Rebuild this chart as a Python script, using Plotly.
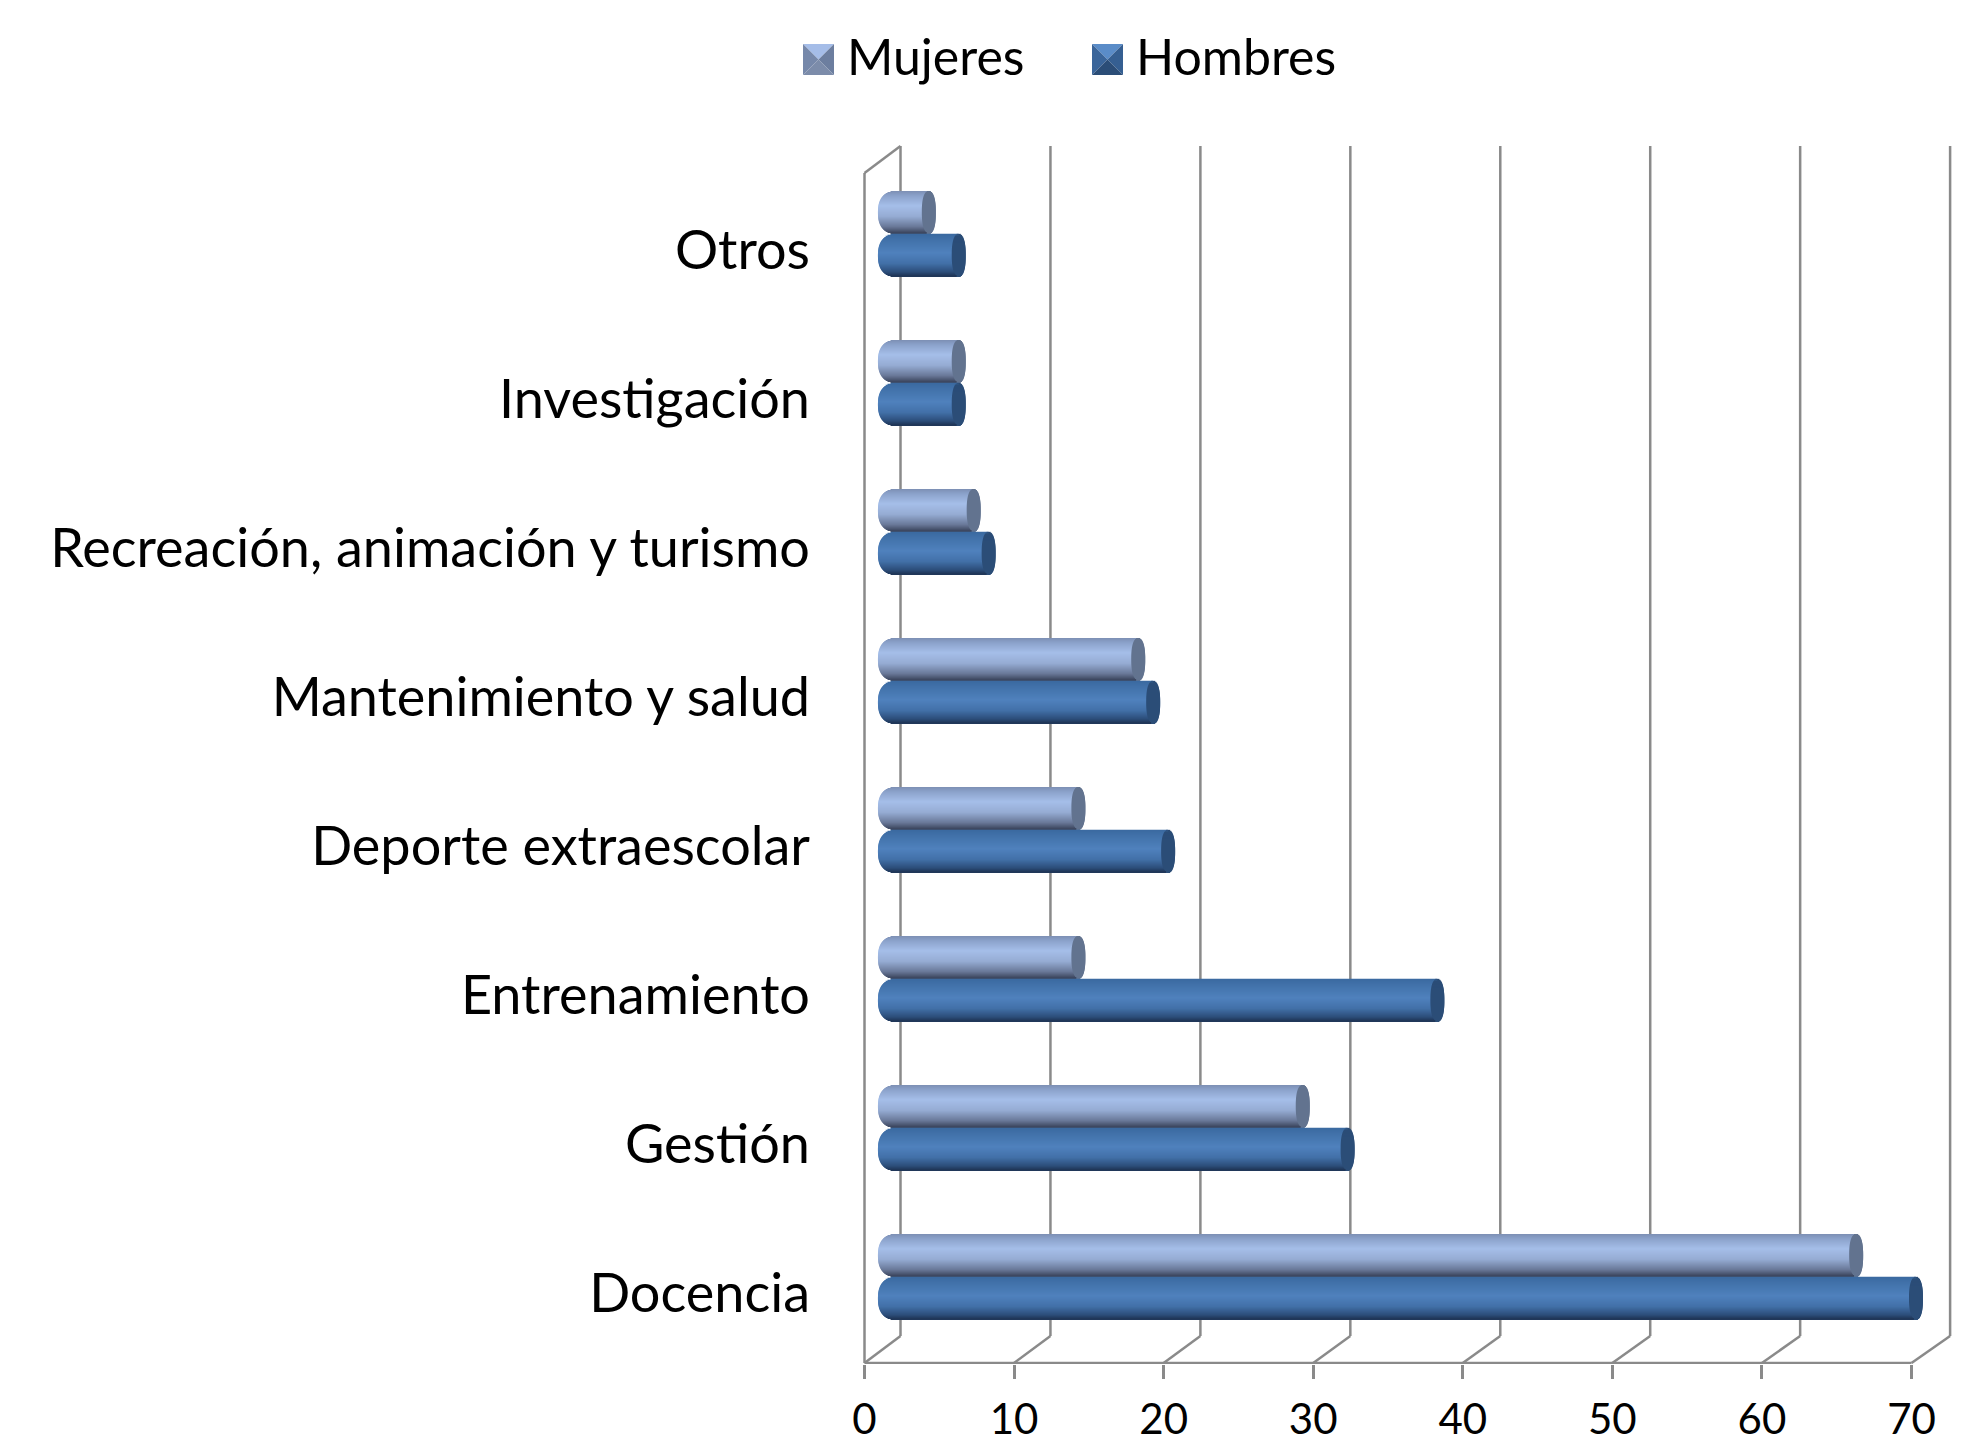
import plotly.graph_objects as go

categories = ["Docencia", "Gestión", "Entrenamiento", "Deporte extraescolar",
              "Mantenimiento y salud", "Recreación, animación y turismo",
              "Investigación", "Otros"]
mujeres = [65, 28, 13, 13, 17, 6, 5, 3]
hombres = [69, 31, 37, 19, 18, 7, 5, 5]
x_ticks = [0, 10, 20, 30, 40, 50, 60, 70]

W, H = 1974, 1446
PX_UNIT = 14.957
PX_CAT = 149.0
X0_PX, Y0_PX = 864.5, 1365
L, R, T, B = 857, 1952, 140, 1364
DEPTH_X = 36 / PX_UNIT
DEPTH_Y = 27 / PX_CAT
BACK_SCALE = 1.0025
GRID = "#8a8a8a"
FONT = "Lato"

stops_m = [(0, (125, 143, 180)), (0.12, (140, 163, 204)), (0.35, (165, 190, 233)),
           (0.6, (150, 172, 212)), (0.85, (105, 120, 152)), (1, (58, 68, 92))]
stops_h = [(0, (58, 105, 160)), (0.15, (66, 114, 170)), (0.45, (79, 129, 189)),
           (0.7, (66, 112, 168)), (0.9, (44, 78, 122)), (1, (30, 52, 85))]
cap_m = "#62738f"
cap_h = "#2b4d77"


def colour(stops, t):
    for (a, ca), (b, cb) in zip(stops, stops[1:]):
        if a <= t <= b:
            f = (t - a) / (b - a)
            return "rgb(%d,%d,%d)" % tuple(round(p + (q - p) * f) for p, q in zip(ca, cb))
    return "rgb(%d,%d,%d)" % stops[-1][1]


def super_s(u, p):
    return max(0.0, 1 - abs(u) ** p) ** (1 / p)


fig = go.Figure()
N = 42
BAR_H = 42.5
BODY0 = 1.3
CAP_RX = 7 / PX_UNIT
LEFT_FLAT = 2.1
LEFT_RX = 1.2
mid = DEPTH_Y / 2
band = BAR_H / N / PX_CAT

for values, stops, cap, sign in [(mujeres, stops_m, cap_m, 1), (hombres, stops_h, cap_h, -1)]:
    for i in range(N):
        t = (i + 0.5) / N
        u = 2 * t - 1
        top_off = mid + (BAR_H / PX_CAT if sign > 0 else 0) - i * band
        offset = top_off - band
        left = LEFT_FLAT - LEFT_RX * super_s(u, 2.4)
        s = super_s(u, 2.4)
        fig.add_trace(go.Bar(
            y=categories, x=[v + BODY0 - left for v in values], base=[left] * len(values),
            orientation="h", offset=offset, width=band * 1.15,
            marker=dict(color=colour(stops, t), line=dict(width=0)),
            showlegend=False, hoverinfo="skip"))
        fig.add_trace(go.Bar(
            y=categories, x=[2 * CAP_RX * s] * len(values),
            base=[v + BODY0 - CAP_RX * s for v in values],
            orientation="h", offset=offset, width=band * 1.15,
            marker=dict(color=cap, line=dict(width=0)),
            showlegend=False, hoverinfo="skip"))

for name in ["Mujeres", "Hombres"]:
    fig.add_trace(go.Scatter(x=[None], y=[None], mode="markers", name=name,
                             marker=dict(color="rgba(0,0,0,0)", size=16)))

shapes = []
line = dict(color=GRID, width=2.5)
y_bot, y_top = -0.5 + 2 / PX_CAT, len(categories) - 0.5
for tick in x_ticks:
    bx = tick * BACK_SCALE + DEPTH_X
    shapes.append(dict(type="line", xref="x", yref="y", layer="below", x0=bx, x1=bx,
                       y0=y_bot + DEPTH_Y, y1=y_top + DEPTH_Y, line=line))
    shapes.append(dict(type="line", xref="x", yref="y", layer="below", x0=tick, x1=bx,
                       y0=y_bot, y1=y_bot + DEPTH_Y, line=line))
shapes.append(dict(type="line", xref="x", yref="y", layer="below", x0=0, x1=0, y0=y_bot, y1=y_top, line=line))
shapes.append(dict(type="line", xref="x", yref="y", layer="below", x0=0, x1=DEPTH_X,
                   y0=y_top, y1=y_top + DEPTH_Y, line=line))
shapes.append(dict(type="line", xref="x", yref="y", layer="below", x0=0, x1=x_ticks[-1],
                   y0=y_bot, y1=y_bot, line=line))


def px(a, b):
    return (a - L) / (R - L), (B - b) / (B - T)


def swatch(x0, y0, x1, y1, top, left, right, bottom):
    cx, cy = (x0 + x1) / 2, (y0 + y1) / 2
    for (a, b), (c, d), col in [((x0, y0), (x1, y0), top), ((x0, y0), (x0, y1), left),
                                ((x1, y0), (x1, y1), right), ((x0, y1), (x1, y1), bottom)]:
        path = "M%f,%f L%f,%f L%f,%fZ" % (*px(a, b), *px(c, d), *px(cx, cy))
        shapes.append(dict(type="path", xref="paper", yref="paper", path=path, fillcolor=col,
                           line=dict(width=0), layer="below"))


swatch(803, 44, 834, 75, "#a5bde8", "#7688aa", "#6c7e9f", "#7c8caa")
swatch(1092, 44, 1123, 75, "#5a8cc8", "#3a659a", "#355f92", "#2b4d77")

fig.update_layout(
    width=W, height=H, autosize=False, paper_bgcolor="white", plot_bgcolor="white",
    barmode="overlay", shapes=shapes,
    margin=dict(l=L, r=W - R, t=T, b=H - B, pad=0, autoexpand=False),
    font=dict(family=FONT, color="black"),
    legend=dict(orientation="h", x=(807 - L) / (R - L), xanchor="left",
                y=(B - 16) / (B - T), yanchor="top",
                font=dict(size=50, family=FONT, color="black"), itemwidth=30,
                entrywidth=244, entrywidthmode="pixels", bgcolor="rgba(0,0,0,0)",
                traceorder="normal"),
    xaxis=dict(range=[(L - X0_PX) / PX_UNIT, (R - X0_PX) / PX_UNIT], tickvals=x_ticks,
               showgrid=False, zeroline=False, showline=False, ticks="outside", ticklen=14,
               tickwidth=2.5, tickcolor=GRID, ticklabelstandoff=5,
               tickfont=dict(size=42, family=FONT, color="black")),
    yaxis=dict(type="category", categoryorder="array", categoryarray=categories,
               range=[-0.5 + (Y0_PX - B) / PX_CAT, -0.5 + (Y0_PX - T) / PX_CAT],
               showgrid=False, zeroline=False, showline=False, ticks="",
               ticklabelstandoff=46, ticklabelshift=3,
               tickfont=dict(size=54, family=FONT, color="black")),
)

fig.write_html("out.html", post_script="document.body.style.margin='0';",
               config={"displayModeBar": False})
